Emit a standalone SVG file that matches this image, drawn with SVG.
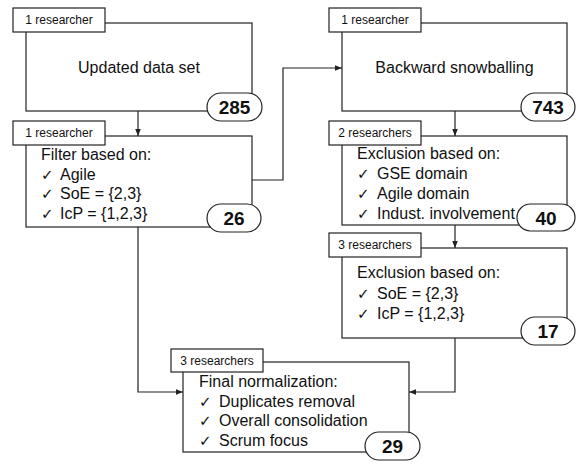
<svg xmlns="http://www.w3.org/2000/svg" width="579" height="464" viewBox="0 0 579 464">
<style>
.box{fill:#fff;stroke:#222;stroke-width:1.2}
.tab{fill:#fff;stroke:#222;stroke-width:1.2}
.badge{fill:#fff;stroke:#222;stroke-width:1.2}
.tt{font-family:"Liberation Sans",Arial,sans-serif;font-size:12px;fill:#111;text-anchor:middle}
.mt{font-family:"Liberation Sans",Arial,sans-serif;font-size:16px;fill:#111}
.ck{font-family:"DejaVu Sans",sans-serif;font-size:15px}
.num{font-family:"Liberation Sans",Arial,sans-serif;font-size:19px;font-weight:bold;fill:#111;text-anchor:middle}
.ln{fill:none;stroke:#222;stroke-width:1.2}
</style>
<defs>
<marker id="ah" viewBox="0 0 10 10" refX="10" refY="5" markerWidth="7" markerHeight="7" markerUnits="userSpaceOnUse" orient="auto">
<path d="M0,1 L10,5 L0,9 z" fill="#222"/>
</marker>
</defs>
<g id="connectors">
<path class="ln" d="M138,111 V136" marker-end="url(#ah)"/>
<path class="ln" d="M252,180 H283 V68 H342" marker-end="url(#ah)"/>
<path class="ln" d="M455,111 V136" marker-end="url(#ah)"/>
<path class="ln" d="M455,225 V248" marker-end="url(#ah)"/>
<path class="ln" d="M138,227 V392 H183" marker-end="url(#ah)"/>
<path class="ln" d="M455,338 V392 H409" marker-end="url(#ah)"/>
</g>
<g id="n1">
<rect class="box" x="26" y="23" width="226" height="88"/>
<rect class="tab" x="13" y="8" width="92" height="24"/>
<text class="tt" x="59" y="24">1 researcher</text>
<text class="mt" x="139" y="73" text-anchor="middle">Updated data set</text>
<rect class="badge" x="207" y="93" width="55" height="28" rx="14"/>
<text class="num" x="234.5" y="114">285</text>
</g>
<g id="n2">
<rect class="box" x="26" y="136" width="226" height="91"/>
<rect class="tab" x="13" y="121" width="92" height="24"/>
<text class="tt" x="59" y="137">1 researcher</text>
<text class="mt" x="41" y="160">Filter based on:</text>
<text class="mt" x="41" y="180"><tspan class="ck">✓</tspan><tspan x="60">Agile</tspan></text>
<text class="mt" x="41" y="199"><tspan class="ck">✓</tspan><tspan x="60">SoE = {2,3}</tspan></text>
<text class="mt" x="41" y="219"><tspan class="ck">✓</tspan><tspan x="60">IcP = {1,2,3}</tspan></text>
<rect class="badge" x="207" y="204" width="54" height="28" rx="14"/>
<text class="num" x="234" y="225">26</text>
</g>
<g id="n3">
<rect class="box" x="342" y="23" width="225" height="88"/>
<rect class="tab" x="329" y="8" width="92" height="24"/>
<text class="tt" x="375" y="24">1 researcher</text>
<text class="mt" x="454.5" y="73" text-anchor="middle">Backward snowballing</text>
<rect class="badge" x="521" y="93" width="54" height="28" rx="14"/>
<text class="num" x="548" y="114">743</text>
</g>
<g id="n4">
<rect class="box" x="342" y="136" width="225" height="89"/>
<rect class="tab" x="329" y="121" width="92" height="24"/>
<text class="tt" x="375" y="137">2 researchers</text>
<text class="mt" x="357" y="159">Exclusion based on:</text>
<text class="mt" x="357" y="179"><tspan class="ck">✓</tspan><tspan x="377">GSE domain</tspan></text>
<text class="mt" x="357" y="199"><tspan class="ck">✓</tspan><tspan x="377">Agile domain</tspan></text>
<text class="mt" x="357" y="219"><tspan class="ck">✓</tspan><tspan x="377">Indust. involvement</tspan></text>
<rect class="badge" x="517" y="204" width="58" height="27" rx="13.5"/>
<text class="num" x="546" y="225">40</text>
</g>
<g id="n5">
<rect class="box" x="342" y="248" width="225" height="90"/>
<rect class="tab" x="329" y="233" width="92" height="24"/>
<text class="tt" x="375" y="249">3 researchers</text>
<text class="mt" x="357" y="278">Exclusion based on:</text>
<text class="mt" x="357" y="299"><tspan class="ck">✓</tspan><tspan x="377">SoE = {2,3}</tspan></text>
<text class="mt" x="357" y="319"><tspan class="ck">✓</tspan><tspan x="377">IcP = {1,2,3}</tspan></text>
<rect class="badge" x="521" y="317" width="54" height="28" rx="14"/>
<text class="num" x="548" y="338">17</text>
</g>
<g id="n6">
<rect class="box" x="183" y="362" width="226" height="90"/>
<rect class="tab" x="171" y="349" width="92" height="23"/>
<text class="tt" x="217" y="365">3 researchers</text>
<text class="mt" x="199" y="387">Final normalization:</text>
<text class="mt" x="199" y="407"><tspan class="ck">✓</tspan><tspan x="219">Duplicates removal</tspan></text>
<text class="mt" x="199" y="426"><tspan class="ck">✓</tspan><tspan x="219">Overall consolidation</tspan></text>
<text class="mt" x="199" y="446"><tspan class="ck">✓</tspan><tspan x="219">Scrum focus</tspan></text>
<rect class="badge" x="365" y="432" width="55" height="28" rx="14"/>
<text class="num" x="392.5" y="453">29</text>
</g>
</svg>
